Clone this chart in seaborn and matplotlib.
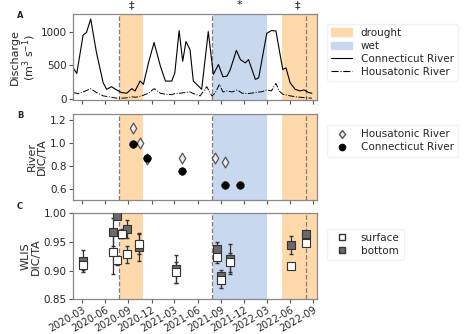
import numpy as np
import pandas as pd
import matplotlib
matplotlib.use("Agg")
import matplotlib.pyplot as plt
import matplotlib.dates as mdates
from matplotlib.patches import Patch
from matplotlib.lines import Line2D
import seaborn as sns

# ---------------- data ----------------
ct_dates = ["2020-01-27","2020-02-10","2020-03-06","2020-03-19","2020-04-05","2020-04-28",
            "2020-05-24","2020-06-07","2020-06-26","2020-07-16","2020-08-05","2020-08-25",
            "2020-09-14","2020-09-27","2020-10-17","2020-10-30","2020-11-19","2020-12-11",
            "2021-01-05","2021-01-25","2021-02-19","2021-03-03","2021-03-20","2021-04-03",
            "2021-04-16","2021-05-02","2021-05-15","2021-06-04","2021-06-17","2021-07-13",
            "2021-08-02","2021-08-22","2021-09-09","2021-09-25","2021-10-08","2021-11-01",
            "2021-11-17","2021-12-06","2021-12-19","2022-01-15","2022-01-28","2022-03-01",
            "2022-03-19","2022-04-06","2022-05-03","2022-05-16","2022-06-01","2022-06-21",
            "2022-07-10","2022-07-26","2022-08-13","2022-08-26"]
ct_q = [463, 380, 950, 985, 1185, 683, 244, 146, 185, 137, 98, 88, 156, 122, 268, 220,
        537, 839, 488, 268, 268, 390, 1015, 561, 854, 732, 268, 195, 146, 1000, 366, 512,
        332, 341, 440, 722, 585, 537, 585, 293, 317, 975, 1015, 1010, 439, 463, 244, 146,
        122, 137, 98, 88]

hs_dates = ["2020-01-27","2020-02-16","2020-03-06","2020-04-05","2020-04-28","2020-05-24",
            "2020-06-19","2020-07-16","2020-08-05","2020-08-25","2020-09-14","2020-10-01",
            "2020-10-23","2020-11-19","2020-12-11","2021-01-05","2021-01-25","2021-02-19",
            "2021-03-03","2021-03-23","2021-04-12","2021-05-02","2021-05-22","2021-06-11",
            "2021-07-07","2021-07-27","2021-08-09","2021-08-26","2021-09-09","2021-09-25",
            "2021-10-15","2021-11-04","2021-11-24","2021-12-19","2022-01-15","2022-02-11",
            "2022-03-01","2022-03-19","2022-04-06","2022-04-19","2022-05-03","2022-06-01",
            "2022-06-27","2022-07-23","2022-08-26"]
hs_q = [98, 83, 107, 156, 98, 49, 34, 15, 15, 20, 34, 29, 49, 88, 156, 88, 73, 68, 83,
        88, 98, 107, 73, 49, 185, 49, 88, 220, 107, 122, 107, 137, 88, 83, 98, 112, 137,
        122, 234, 122, 73, 49, 34, 24, 15]

hr_dates = ["2020-09-20", "2020-10-17", "2020-11-15", "2021-03-30", "2021-08-09", "2021-09-19"]
hr_ratio = [1.13, 1.00, 0.86, 0.87, 0.865, 0.83]
cr_dates = ["2020-09-20", "2020-11-15", "2021-03-30", "2021-09-19", "2021-11-14"]
cr_ratio = [0.99, 0.87, 0.75, 0.63, 0.63]

lis_dates = ["2020-03-06","2020-07-03","2020-07-16","2020-08-05","2020-08-25","2020-10-14",
             "2021-03-09","2021-08-18","2021-08-31","2021-10-06","2022-06-05","2022-08-03"]
surf = [0.909, 0.932, 0.918, 0.964, 0.928, 0.946, 0.897, 0.923, 0.883, 0.914, 0.908, 0.948]
surf_err = [0.008, 0.038, 0.008, 0.008, 0.015, 0.018, 0.018, 0.010, 0.013, 0.016, 0.004, 0.004]
bott = [0.916, 0.967, 0.995, 0.963, 0.972, 0.941, 0.903, 0.937, 0.891, 0.920, 0.944, 0.964]
bott_err = [0.019, 0.025, 0.005, 0.006, 0.016, 0.025, 0.024, 0.013, 0.010, 0.026, 0.016, 0.004]

drought = [("2020-07-28", "2020-10-28"), ("2022-05-01", "2022-09-20")]
wet = [("2021-07-30", "2022-02-28")]
vlines = ["2020-07-25", "2021-07-28", "2022-08-01"]
sig_marks = [("2020-09-12", "‡"), ("2021-11-14", "*"), ("2022-07-01", "‡")]
xlim = ("2020-01-26", "2022-09-16")

# ---------------- plotting ----------------
sns.set_style("ticks")
plt.rcParams["font.family"] = ["DejaVu Sans"]
plt.rcParams["font.size"] = 7.5

fig = plt.figure(figsize=(4.77, 3.34), dpi=100)
L, W = 0.153, 0.512
axA = fig.add_axes([L, 0.700, W, 0.258])
axB = fig.add_axes([L, 0.401, W, 0.258])
axC = fig.add_axes([L, 0.104, W, 0.258])

D = pd.to_datetime
drought_c = "#fdd9ab"
wet_c = "#c8d8ee"

for ax in (axA, axB, axC):
    for a, b in drought:
        ax.axvspan(D(a), D(b), color=drought_c, lw=0, zorder=0)
    for a, b in wet:
        ax.axvspan(D(a), D(b), color=wet_c, lw=0, zorder=0)
    for v in vlines:
        ax.axvline(D(v), color="#8a7a70", ls="--", lw=0.9, zorder=1)
    ax.set_xlim(D(xlim[0]), D(xlim[1]))
    ax.xaxis.set_major_locator(mdates.MonthLocator(bymonth=[3, 6, 9, 12]))
    ax.xaxis.set_major_formatter(mdates.DateFormatter("%Y-%m"))
    for s in ax.spines.values():
        s.set_color("#888888")
        s.set_linewidth(0.9)
    ax.tick_params(labelsize=7.5, length=3, width=0.8, color="#555555", pad=1.5)

# Panel A
dfc = pd.DataFrame({"date": D(ct_dates), "q": ct_q})
dfh = pd.DataFrame({"date": D(hs_dates), "q": hs_q})
sns.lineplot(data=dfc, x="date", y="q", ax=axA, color="black", lw=0.8)
sns.lineplot(data=dfh, x="date", y="q", ax=axA, color="black", lw=0.7, ls="-.")
axA.set_ylim(-15, 1260)
axA.set_yticks([0, 500, 1000])
axA.set_ylabel("Discharge\n(m$^3$ s$^{-1}$)", fontsize=8, labelpad=2, linespacing=1.0)
axA.set_xlabel("")
axA.tick_params(labelbottom=False)
for d, m in sig_marks:
    axA.text(D(d), 1.05, m, transform=axA.get_xaxis_transform(), ha="center",
             va="bottom", fontsize=8)
hA = [Patch(color=drought_c, label="drought"), Patch(color=wet_c, label="wet"),
      Line2D([], [], color="black", lw=0.8, label="Connecticut River"),
      Line2D([], [], color="black", lw=0.8, ls="-.", label="Housatonic River")]
axA.legend(handles=hA, loc="upper left", bbox_to_anchor=(1.02, 0.95), fontsize=7.5,
           frameon=True, edgecolor="#eeeeee", handlelength=2.0, borderpad=0.4,
           labelspacing=0.3)

# Panel B
dfhr = pd.DataFrame({"date": D(hr_dates), "r": hr_ratio})
dfcr = pd.DataFrame({"date": D(cr_dates), "r": cr_ratio})
sns.scatterplot(data=dfhr, x="date", y="r", ax=axB, marker="d", s=30, color="#eeeeee",
                edgecolor="#555555", linewidth=0.9, zorder=3)
sns.scatterplot(data=dfcr, x="date", y="r", ax=axB, marker="o", s=30, color="black",
                edgecolor="black", zorder=4)
axB.set_ylim(0.5, 1.25)
axB.set_yticks([0.6, 0.8, 1.0, 1.2])
axB.set_ylabel("River\nDIC/TA", fontsize=8, labelpad=2, linespacing=1.0)
axB.set_xlabel("")
axB.tick_params(labelbottom=False)
hB = [Line2D([], [], ls="", marker="d", ms=4.5, mfc="#eeeeee", mec="#555555",
             label="Housatonic River"),
      Line2D([], [], ls="", marker="o", ms=4.5, color="black", label="Connecticut River")]
axB.legend(handles=hB, loc="upper left", bbox_to_anchor=(1.02, 0.93), fontsize=7.5,
           frameon=True, edgecolor="#eeeeee", borderpad=0.4, labelspacing=0.3)

# Panel C
lx = D(lis_dates)
axC.errorbar(lx, bott, yerr=bott_err, fmt="none", ecolor="#333333", elinewidth=0.9,
             capsize=1.5, zorder=3)
axC.errorbar(lx, surf, yerr=surf_err, fmt="none", ecolor="#333333", elinewidth=0.9,
             capsize=1.5, zorder=3)
dfb = pd.DataFrame({"date": lx, "v": bott})
dfs = pd.DataFrame({"date": lx, "v": surf})
sns.scatterplot(data=dfb, x="date", y="v", ax=axC, marker="s", s=28, color="#6a6a6a",
                edgecolor="#333333", linewidth=0.8, zorder=4)
sns.scatterplot(data=dfs, x="date", y="v", ax=axC, marker="s", s=28, color="white",
                edgecolor="#333333", linewidth=0.8, zorder=5)
axC.set_ylim(0.85, 1.0)
axC.set_yticks([0.85, 0.90, 0.95, 1.00])
axC.set_ylabel("WLIS\nDIC/TA", fontsize=8, labelpad=2, linespacing=1.0)
axC.set_xlabel("")
axC.tick_params(axis="x", labelsize=7, pad=1)
plt.setp(axC.get_xticklabels(), rotation=30, ha="right", rotation_mode="anchor")
hC = [Line2D([], [], ls="", marker="s", ms=5, mfc="white", mec="#333333", label="surface"),
      Line2D([], [], ls="", marker="s", ms=5, mfc="#6a6a6a", mec="#333333", label="bottom")]
axC.legend(handles=hC, loc="upper left", bbox_to_anchor=(1.02, 0.88), fontsize=7.5,
           frameon=True, edgecolor="#eeeeee", borderpad=0.4, labelspacing=0.3)

for ax, lab, y in ((axA, "A", 0.955), (axB, "B", 0.655), (axC, "C", 0.383)):
    fig.text(0.042, y, lab, fontsize=6, fontweight="bold", ha="center", va="center")

fig.savefig("out.png", dpi=100)
